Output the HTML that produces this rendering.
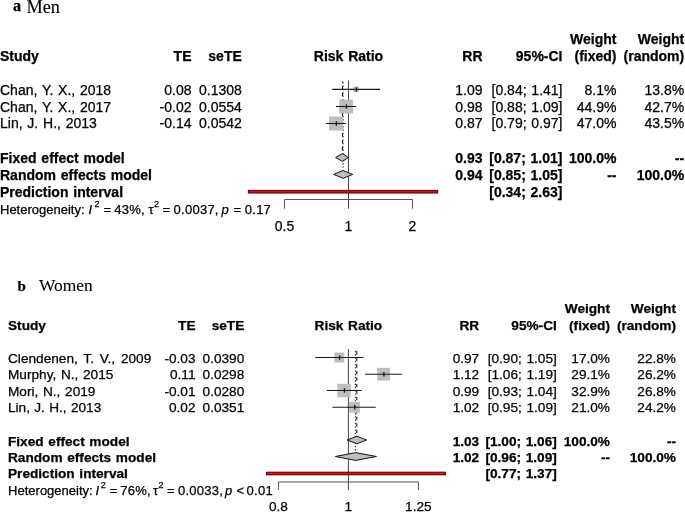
<!DOCTYPE html>
<html><head><meta charset="utf-8"><style>
html,body{margin:0;padding:0;background:#fff;}
svg{display:block;will-change:transform;}
</style></head><body>
<svg width="685" height="512" viewBox="0 0 685 512" font-family="Liberation Sans, sans-serif" font-size="14" fill="#000" stroke="#000" stroke-width="0.25" word-spacing="0.9">
<rect width="685" height="512" fill="#fff" stroke="none"/>
<g font-size="14" word-spacing="0.9">
<text x="13" y="11" font-weight="bold" font-size="16.2" font-family="Liberation Serif, serif">a</text>
<text x="26.5" y="12.8" font-size="18.3" font-family="Liberation Serif, serif" stroke-width="0.12">Men</text>
<text x="0" y="61.3" font-weight="bold">Study</text>
<text x="191.5" y="61.3" text-anchor="end" font-weight="bold">TE</text>
<text x="241.8" y="61.3" text-anchor="end" font-weight="bold">seTE</text>
<text x="348.5" y="61.3" text-anchor="middle" font-weight="bold">Risk Ratio</text>
<text x="482.5" y="61.3" text-anchor="end" font-weight="bold">RR</text>
<text x="562.5" y="61.3" text-anchor="end" font-weight="bold">95%-CI</text>
<text x="616.5" y="44.2" text-anchor="end" font-weight="bold">Weight</text>
<text x="616.5" y="61.3" text-anchor="end" font-weight="bold">(fixed)</text>
<text x="684.2" y="44.2" text-anchor="end" font-weight="bold">Weight</text>
<text x="684.2" y="61.3" text-anchor="end" font-weight="bold">(random)</text>
<line x1="348.5" y1="80.5" x2="348.5" y2="208.7" stroke="#444" stroke-width="1"/>
<line x1="342.5" y1="81.2" x2="342.5" y2="152" stroke="#111" stroke-width="1.1" stroke-dasharray="3.38,3.38" stroke-dashoffset="2.05"/>
<line x1="343.1" y1="81.2" x2="343.1" y2="170" stroke="#333" stroke-width="1.1" stroke-dasharray="1.4,1.975" stroke-dashoffset="2.55"/>
<text x="0" y="94.8">Chan, Y. X., 2018</text>
<text x="191.5" y="94.8" text-anchor="end">0.08</text>
<text x="241.8" y="94.8" text-anchor="end">0.1308</text>
<text x="482.5" y="94.8" text-anchor="end">1.09</text>
<text x="562.5" y="94.8" text-anchor="end">[0.84; 1.41]</text>
<text x="616.5" y="94.8" text-anchor="end">8.1%</text>
<text x="684.2" y="94.8" text-anchor="end">13.8%</text>
<rect x="353.30" y="86.60" width="5.60" height="5.60" fill="#bebebe" stroke="none"/>
<line x1="332.2" y1="89.4" x2="380.1" y2="89.4" stroke="#1a1a1a" stroke-width="1.1"/>
<line x1="356.40" y1="87.2" x2="356.40" y2="91.60000000000001" stroke="#111" stroke-width="1.3"/>
<text x="0" y="111.5">Chan, Y. X., 2017</text>
<text x="191.5" y="111.5" text-anchor="end">-0.02</text>
<text x="241.8" y="111.5" text-anchor="end">0.0554</text>
<text x="482.5" y="111.5" text-anchor="end">0.98</text>
<text x="562.5" y="111.5" text-anchor="end">[0.88; 1.09]</text>
<text x="616.5" y="111.5" text-anchor="end">44.9%</text>
<text x="684.2" y="111.5" text-anchor="end">42.7%</text>
<rect x="339.15" y="99.55" width="13.90" height="13.90" fill="#bebebe" stroke="none"/>
<line x1="336.0" y1="106.5" x2="356.2" y2="106.5" stroke="#1a1a1a" stroke-width="1.1"/>
<line x1="346.40" y1="104.3" x2="346.40" y2="108.7" stroke="#111" stroke-width="1.3"/>
<text x="0" y="128.3">Lin, J. H., 2013</text>
<text x="191.5" y="128.3" text-anchor="end">-0.14</text>
<text x="241.8" y="128.3" text-anchor="end">0.0542</text>
<text x="482.5" y="128.3" text-anchor="end">0.87</text>
<text x="562.5" y="128.3" text-anchor="end">[0.79; 0.97]</text>
<text x="616.5" y="128.3" text-anchor="end">47.0%</text>
<text x="684.2" y="128.3" text-anchor="end">43.5%</text>
<rect x="329.00" y="116.50" width="14.00" height="14.00" fill="#bebebe" stroke="none"/>
<line x1="326.1" y1="123.5" x2="345.8" y2="123.5" stroke="#1a1a1a" stroke-width="1.1"/>
<line x1="336.30" y1="121.3" x2="336.30" y2="125.7" stroke="#111" stroke-width="1.3"/>
<text x="0" y="163.0" font-weight="bold">Fixed effect model</text>
<text x="482.5" y="163.0" text-anchor="end" font-weight="bold">0.93</text>
<text x="562.5" y="163.0" text-anchor="end" font-weight="bold">[0.87; 1.01]</text>
<text x="616.5" y="163.0" text-anchor="end" font-weight="bold">100.0%</text>
<text x="684.2" y="163.0" text-anchor="end" font-weight="bold">--</text>
<polygon points="335.6,157.5 342.5,153.6 348.3,157.5 342.5,161.4" fill="#bebebe" stroke="#111" stroke-width="1"/>
<text x="0" y="179.9" font-weight="bold">Random effects model</text>
<text x="482.5" y="179.9" text-anchor="end" font-weight="bold">0.94</text>
<text x="562.5" y="179.9" text-anchor="end" font-weight="bold">[0.85; 1.05]</text>
<text x="616.5" y="179.9" text-anchor="end" font-weight="bold">--</text>
<text x="684.2" y="179.9" text-anchor="end" font-weight="bold">100.0%</text>
<polygon points="333.6,174.4 343.1,170.5 352.6,174.4 343.1,178.3" fill="#bebebe" stroke="#111" stroke-width="1"/>
<text x="0" y="196.7" font-weight="bold">Prediction interval</text>
<text x="562.5" y="196.7" text-anchor="end" font-weight="bold">[0.34; 2.63]</text>
<rect x="248.3" y="190.35" width="189.40" height="2.7" fill="#f00" stroke="#300" stroke-width="0.9"/>
<text font-size="13" word-spacing="0"><tspan x="0.0" y="213.7">Heterogeneity:</tspan><tspan x="88.5" y="213.7" font-style="italic">I</tspan><tspan x="94.4" y="207.1" font-size="9">2</tspan><tspan x="103.6" y="213.7">=</tspan><tspan x="114.2" y="213.7" letter-spacing="0.25">43%,</tspan><tspan x="148.5" y="213.7">τ</tspan><tspan x="154.0" y="207.1" font-size="9">2</tspan><tspan x="162.6" y="213.7">=</tspan><tspan x="173.6" y="213.7" letter-spacing="0.25">0.0037,</tspan><tspan x="221.4" y="213.7" font-style="italic">p</tspan><tspan x="233.6" y="213.7">=</tspan><tspan x="244.8" y="213.7" letter-spacing="0.25">0.17</tspan></text>
<path d="M284.50,208.7V199.5H412.50V208.7" fill="none" stroke="#555" stroke-width="1"/>
<text x="284.50" y="231" text-anchor="middle">0.5</text>
<text x="348.50" y="231" text-anchor="middle">1</text>
<text x="412.50" y="231" text-anchor="middle">2</text>
</g>
<g font-size="13.65" word-spacing="0.88">
<text x="17.6" y="290.6" font-weight="bold" font-size="15" font-family="Liberation Serif, serif">b</text>
<text x="39.0" y="291" font-size="17.4" font-family="Liberation Serif, serif" stroke-width="0.12">Women</text>
<text x="8" y="329.8" font-weight="bold">Study</text>
<text x="195.5" y="329.8" text-anchor="end" font-weight="bold">TE</text>
<text x="244.3" y="329.8" text-anchor="end" font-weight="bold">seTE</text>
<text x="348.4" y="329.8" text-anchor="middle" font-weight="bold">Risk Ratio</text>
<text x="479.2" y="329.8" text-anchor="end" font-weight="bold">RR</text>
<text x="556.8" y="329.8" text-anchor="end" font-weight="bold">95%-CI</text>
<text x="610" y="312.5" text-anchor="end" font-weight="bold">Weight</text>
<text x="610" y="329.8" text-anchor="end" font-weight="bold">(fixed)</text>
<text x="676" y="312.5" text-anchor="end" font-weight="bold">Weight</text>
<text x="676" y="329.8" text-anchor="end" font-weight="bold">(random)</text>
<line x1="348.4" y1="349" x2="348.4" y2="490" stroke="#444" stroke-width="1"/>
<line x1="356.8" y1="349.5" x2="356.8" y2="434.5" stroke="#111" stroke-width="1.1" stroke-dasharray="3.27,3.27" stroke-dashoffset="4.75"/>
<line x1="355.4" y1="349.5" x2="355.4" y2="452" stroke="#333" stroke-width="1.1" stroke-dasharray="1.4,1.875" stroke-dashoffset="1.975"/>
<text x="8" y="362.8" word-spacing="2">Clendenen, T. V., 2009</text>
<text x="195.5" y="362.8" text-anchor="end">-0.03</text>
<text x="244.3" y="362.8" text-anchor="end">0.0390</text>
<text x="479.2" y="362.8" text-anchor="end">0.97</text>
<text x="556.8" y="362.8" text-anchor="end">[0.90; 1.05]</text>
<text x="610" y="362.8" text-anchor="end">17.0%</text>
<text x="676" y="362.8" text-anchor="end">22.8%</text>
<rect x="334.35" y="352.55" width="9.90" height="9.90" fill="#bebebe" stroke="none"/>
<line x1="315.3" y1="357.5" x2="363.4" y2="357.5" stroke="#1a1a1a" stroke-width="1.1"/>
<line x1="339.60" y1="355.3" x2="339.60" y2="359.7" stroke="#111" stroke-width="1.3"/>
<text x="8" y="379.2">Murphy, N., 2015</text>
<text x="195.5" y="379.2" text-anchor="end">0.11</text>
<text x="244.3" y="379.2" text-anchor="end">0.0298</text>
<text x="479.2" y="379.2" text-anchor="end">1.12</text>
<text x="556.8" y="379.2" text-anchor="end">[1.06; 1.19]</text>
<text x="610" y="379.2" text-anchor="end">29.1%</text>
<text x="676" y="379.2" text-anchor="end">26.2%</text>
<rect x="377.25" y="367.85" width="12.70" height="12.70" fill="#bebebe" stroke="none"/>
<line x1="365.1" y1="374.2" x2="402.0" y2="374.2" stroke="#1a1a1a" stroke-width="1.1"/>
<line x1="383.90" y1="372.0" x2="383.90" y2="376.4" stroke="#111" stroke-width="1.3"/>
<text x="8" y="395.6">Mori, N., 2019</text>
<text x="195.5" y="395.6" text-anchor="end">-0.01</text>
<text x="244.3" y="395.6" text-anchor="end">0.0280</text>
<text x="479.2" y="395.6" text-anchor="end">0.99</text>
<text x="556.8" y="395.6" text-anchor="end">[0.93; 1.04]</text>
<text x="610" y="395.6" text-anchor="end">32.9%</text>
<text x="676" y="395.6" text-anchor="end">26.8%</text>
<rect x="337.35" y="383.75" width="13.50" height="13.50" fill="#bebebe" stroke="none"/>
<line x1="326.9" y1="390.5" x2="361.6" y2="390.5" stroke="#1a1a1a" stroke-width="1.1"/>
<line x1="344.40" y1="388.3" x2="344.40" y2="392.7" stroke="#111" stroke-width="1.3"/>
<text x="8" y="411.9" word-spacing="0.5">Lin, J. H., 2013</text>
<text x="195.5" y="411.9" text-anchor="end">0.02</text>
<text x="244.3" y="411.9" text-anchor="end">0.0351</text>
<text x="479.2" y="411.9" text-anchor="end">1.02</text>
<text x="556.8" y="411.9" text-anchor="end">[0.95; 1.09]</text>
<text x="610" y="411.9" text-anchor="end">21.0%</text>
<text x="676" y="411.9" text-anchor="end">24.2%</text>
<rect x="349.10" y="401.80" width="10.80" height="10.80" fill="#bebebe" stroke="none"/>
<line x1="332.4" y1="407.2" x2="375.8" y2="407.2" stroke="#1a1a1a" stroke-width="1.1"/>
<line x1="354.80" y1="405.0" x2="354.80" y2="409.4" stroke="#111" stroke-width="1.3"/>
<text x="8" y="445.5" font-weight="bold">Fixed effect model</text>
<text x="479.2" y="445.5" text-anchor="end" font-weight="bold">1.03</text>
<text x="556.8" y="445.5" text-anchor="end" font-weight="bold">[1.00; 1.06]</text>
<text x="610" y="445.5" text-anchor="end" font-weight="bold">100.0%</text>
<text x="676" y="445.5" text-anchor="end" font-weight="bold">--</text>
<polygon points="347.2,440.0 356.9,436.2 366.6,440.0 356.9,443.8" fill="#bebebe" stroke="#111" stroke-width="1"/>
<text x="8" y="461.7" font-weight="bold">Random effects model</text>
<text x="479.2" y="461.7" text-anchor="end" font-weight="bold">1.02</text>
<text x="556.8" y="461.7" text-anchor="end" font-weight="bold">[0.96; 1.09]</text>
<text x="610" y="461.7" text-anchor="end" font-weight="bold">--</text>
<text x="676" y="461.7" text-anchor="end" font-weight="bold">100.0%</text>
<polygon points="335.4,456.5 355.7,452.6 376.4,456.5 355.7,460.4" fill="#bebebe" stroke="#111" stroke-width="1"/>
<text x="8" y="478.4" font-weight="bold">Prediction interval</text>
<text x="556.8" y="478.4" text-anchor="end" font-weight="bold">[0.77; 1.37]</text>
<rect x="266.5" y="472.15000000000003" width="179.00" height="2.7" fill="#f00" stroke="#300" stroke-width="0.9"/>
<text font-size="13" word-spacing="0"><tspan x="8.1" y="494.8">Heterogeneity:</tspan><tspan x="95.5" y="494.8" font-style="italic">I</tspan><tspan x="100.7" y="488.2" font-size="9">2</tspan><tspan x="109.8" y="494.8">=</tspan><tspan x="120.3" y="494.8" letter-spacing="0.25">76%,</tspan><tspan x="153.1" y="494.8">τ</tspan><tspan x="158.4" y="488.2" font-size="9">2</tspan><tspan x="166.9" y="494.8">=</tspan><tspan x="178.0" y="494.8" letter-spacing="0.25">0.0033,</tspan><tspan x="225.1" y="494.8" font-style="italic">p</tspan><tspan x="236.6" y="494.8">&lt;</tspan><tspan x="246.6" y="494.8" letter-spacing="0.25">0.01</tspan></text>
<path d="M278.40,490V482H418.40V490" fill="none" stroke="#555" stroke-width="1"/>
<text x="278.40" y="510.5" text-anchor="middle">0.8</text>
<text x="348.40" y="510.5" text-anchor="middle">1</text>
<text x="418.40" y="510.5" text-anchor="middle">1.25</text>
</g>
</svg></body></html>
